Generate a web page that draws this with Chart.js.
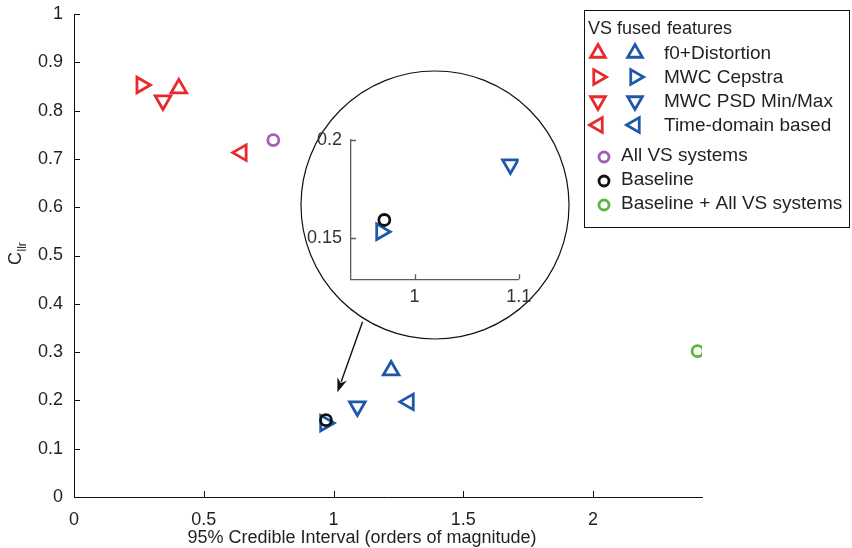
<!DOCTYPE html>
<html lang="en">
<head>
<meta charset="UTF-8">
<title>Cllr vs credible interval</title>
<script src="https://cdn.jsdelivr.net/npm/chart.js@4.4.0/dist/chart.umd.min.js"></script>
<style>
    body { margin: 0; background: #fff; }
    #wrap { position: relative; width: 852px; height: 548px; }
    #mainChart { position: absolute; left: 0; top: 0; }
    #insetChart { position: absolute; left: 290px; top: 60px; }
</style>
</head>
<body>
<div id="wrap">
    <canvas id="mainChart" width="852" height="548"></canvas>
    <canvas id="insetChart" width="290" height="290"></canvas>
</div>
<script>
// feature sets (same order in both fused groups)
const featureNames = ['f0+Distortion', 'MWC Cepstra', 'MWC PSD Min/Max', 'Time-domain based'];

// VS fused features (red)
const vsFusedX = [0.404, 0.260, 0.343, 0.646];
const vsFusedY = [0.846, 0.853, 0.821, 0.713];

// baseline + VS fused features (blue)
const baseFusedX = [1.222, 0.968, 1.092, 1.290];
const baseFusedY = [0.262, 0.153, 0.1875, 0.197];

// single systems
const allVsX = [0.768];
const allVsY = [0.739];
const baselineX = [0.971];
const baselineY = [0.159];
const baseAllVsX = [2.403];
const baseAllVsY = [0.302];

// axis ticks
const xTicks = [0, 0.5, 1, 1.5, 2];
const yTicks = [0, 0.1, 0.2, 0.3, 0.4, 0.5, 0.6, 0.7, 0.8, 0.9, 1];
const insetXTicks = [1, 1.1];
const insetYTicks = [0.15, 0.2];

// zoom arrow (data units): from circle edge to the baseline cluster
const arrowFrom = [1.112, 0.363];
const arrowTo = [1.015, 0.217];

// styles
const RED = '#e8292d';
const BLUE = '#1f58ab';
const PURPLE = '#a25db4';
const GREEN = '#5ab73d';
const BLACK = '#111111';
const TEXT = '#231f20';
const markerRot = [0, 90, 180, 270];
const FONT = "'Liberation Sans', Arial, sans-serif";
const MARK_W = 2.8;

function toPoints(xs, ys) {
    return xs.map((x, i) => ({ x: x, y: ys[i] }));
}

function buildDatasets(xRange, yRange) {
    const inRange = p => p.x >= xRange[0] && p.x <= xRange[1] && p.y >= yRange[0] && p.y <= yRange[1];
    const sets = [];
    const add = (label, pts, color, style, rot, r) => {
        sets.push({
            label: label,
            data: pts.filter(inRange),
            pointStyle: style,
            rotation: rot,
            pointRadius: r,
            borderColor: color,
            backgroundColor: 'rgba(0,0,0,0)',
            pointBorderWidth: MARK_W,
            pointHoverRadius: r
        });
    };
    featureNames.forEach((name, i) => {
        add('VS ' + name, [{ x: vsFusedX[i], y: vsFusedY[i] }], RED, 'triangle', markerRot[i], 9);
    });
    add('All VS systems', toPoints(allVsX, allVsY), PURPLE, 'circle', 0, 5.5);
    add('Baseline', toPoints(baselineX, baselineY), BLACK, 'circle', 0, 5.5);
    featureNames.forEach((name, i) => {
        add('Baseline ' + name, [{ x: baseFusedX[i], y: baseFusedY[i] }], BLUE, 'triangle', markerRot[i], 9);
    });
    add('Baseline + All VS systems', toPoints(baseAllVsX, baseAllVsY), GREEN, 'circle', 0, 5.5);
    return sets;
}

function drawMarker(ctx, kind, rotDeg, x, y, r, color) {
    ctx.save();
    ctx.strokeStyle = color;
    ctx.lineWidth = MARK_W;
    ctx.beginPath();
    if (kind === 'circle') {
        ctx.arc(x, y, r, 0, Math.PI * 2);
    } else {
        let a = rotDeg * Math.PI / 180;
        for (let i = 0; i < 3; i++) {
            const px = x + Math.sin(a) * r, py = y - Math.cos(a) * r;
            if (i === 0) ctx.moveTo(px, py); else ctx.lineTo(px, py);
            a += Math.PI * 2 / 3;
        }
        ctx.closePath();
    }
    ctx.stroke();
    ctx.restore();
}

// small ticks pointing into the plot, like matlab
function drawInwardTicks(chart, xs, ys, len, color, width) {
    const ctx = chart.ctx, a = chart.chartArea;
    const sx = chart.scales.x, sy = chart.scales.y;
    ctx.save();
    ctx.strokeStyle = color;
    ctx.lineWidth = width;
    ctx.beginPath();
    xs.forEach(v => {
        const px = Math.round(sx.getPixelForValue(v)) + 0.5;
        ctx.moveTo(px, a.bottom);
        ctx.lineTo(px, a.bottom - len);
    });
    ys.forEach(v => {
        const py = Math.round(sy.getPixelForValue(v)) + 0.5;
        ctx.moveTo(a.left, py);
        ctx.lineTo(a.left + len, py);
    });
    ctx.stroke();
    ctx.restore();
}

const mainDecor = {
    id: 'mainDecor',
    afterDraw(chart) {
        const ctx = chart.ctx;
        const sx = chart.scales.x, sy = chart.scales.y;
        drawInwardTicks(chart, xTicks.slice(1), yTicks.slice(1), 6, BLACK, 1);

        // arrow
        const x0 = sx.getPixelForValue(arrowFrom[0]), y0 = sy.getPixelForValue(arrowFrom[1]);
        const x1 = sx.getPixelForValue(arrowTo[0]), y1 = sy.getPixelForValue(arrowTo[1]);
        const ang = Math.atan2(y1 - y0, x1 - x0);
        const hl = 14, hw = 5;
        ctx.save();
        ctx.strokeStyle = BLACK;
        ctx.fillStyle = BLACK;
        ctx.lineWidth = 1.4;
        ctx.beginPath();
        ctx.moveTo(x0, y0);
        ctx.lineTo(x1 - Math.cos(ang) * hl * 0.8, y1 - Math.sin(ang) * hl * 0.8);
        ctx.stroke();
        ctx.beginPath();
        ctx.moveTo(x1, y1);
        ctx.lineTo(x1 - Math.cos(ang) * hl - Math.sin(ang) * hw, y1 - Math.sin(ang) * hl + Math.cos(ang) * hw);
        ctx.lineTo(x1 - Math.cos(ang) * hl * 0.7, y1 - Math.sin(ang) * hl * 0.7);
        ctx.lineTo(x1 - Math.cos(ang) * hl + Math.sin(ang) * hw, y1 - Math.sin(ang) * hl - Math.cos(ang) * hw);
        ctx.closePath();
        ctx.fill();
        ctx.restore();

        // axis titles
        ctx.save();
        ctx.fillStyle = TEXT;
        ctx.font = '18px ' + FONT;
        ctx.textAlign = 'center';
        ctx.textBaseline = 'alphabetic';
        ctx.fillText('95% Credible Interval (orders of magnitude)', 362, 543);

        ctx.translate(21, 265);
        ctx.rotate(-Math.PI / 2);
        ctx.textAlign = 'left';
        ctx.fillText('C', 0, 0);
        const wc = ctx.measureText('C').width;
        ctx.font = '12px ' + FONT;
        ctx.fillText('llr', wc + 0.5, 5);
        ctx.restore();

        // legend
        ctx.save();
        ctx.fillStyle = '#fff';
        ctx.fillRect(584.5, 10.5, 265, 217);
        ctx.strokeStyle = BLACK;
        ctx.lineWidth = 1;
        ctx.strokeRect(584.5, 10.5, 265, 217);
        ctx.fillStyle = TEXT;
        ctx.textBaseline = 'middle';
        ctx.textAlign = 'left';
        ctx.font = '18px ' + FONT;
        ctx.fillText('VS fused', 588, 29);
        ctx.fillText('features', 667, 29);
        ctx.font = '19px ' + FONT;
        const rowY = [53, 77, 101, 125];
        featureNames.forEach((name, i) => {
            drawMarker(ctx, 'triangle', markerRot[i], 598, rowY[i], 8.5, RED);
            drawMarker(ctx, 'triangle', markerRot[i], 635, rowY[i], 8.5, BLUE);
            ctx.fillText(name, 664, rowY[i] + 1);
        });
        const circRows = [
            ['All VS systems', PURPLE, 156],
            ['Baseline', BLACK, 180],
            ['Baseline + All VS systems', GREEN, 204]
        ];
        circRows.forEach(c => {
            drawMarker(ctx, 'circle', 0, 604, c[2] + 1, 5, c[1]);
            ctx.fillText(c[0], 621, c[2]);
        });
        ctx.restore();
    }
};

// keep tick labels from pushing the plot area around
function noLabelPadding(s) {
    s.paddingTop = 0;
    s.paddingBottom = 0;
    s.paddingLeft = 0;
    s.paddingRight = 0;
}

new Chart(document.getElementById('mainChart'), {
    type: 'scatter',
    data: { datasets: buildDatasets([-1, 10], [-1, 10]) },
    options: {
        responsive: false,
        animation: false,
        events: [],
        layout: { padding: { left: 0, top: 14, right: 150, bottom: 0 } },
        plugins: { legend: { display: false }, tooltip: { enabled: false } },
        scales: {
            x: {
                type: 'linear', min: 0, max: 2.42,
                afterBuildTicks: s => { s.ticks = xTicks.map(v => ({ value: v })); },
                afterFit: s => { s.height = 51; noLabelPadding(s); },
                grid: { display: false, drawTicks: false },
                border: { display: true, color: BLACK, width: 1 },
                ticks: { padding: 12, color: TEXT, font: { family: FONT, size: 18 }, callback: v => String(v), maxRotation: 0 }
            },
            y: {
                type: 'linear', min: 0, max: 1,
                afterBuildTicks: s => { s.ticks = yTicks.map(v => ({ value: v })); },
                afterFit: s => { s.width = 74; noLabelPadding(s); },
                grid: { display: false, drawTicks: false },
                border: { display: true, color: BLACK, width: 1 },
                ticks: { padding: 11, color: TEXT, font: { family: FONT, size: 18 }, callback: v => String(v) }
            }
        }
    },
    plugins: [mainDecor]
});

// magnified inset
const insetXRange = [0.939, 1.1];
const insetYRange = [0.1286, 0.2];
const INSET_AXIS = '#5c5c5c';

const insetDecor = {
    id: 'insetDecor',
    beforeDraw(chart) {
        const ctx = chart.ctx;
        ctx.save();
        ctx.beginPath();
        ctx.arc(145, 145, 134, 0, Math.PI * 2);
        ctx.fillStyle = '#fff';
        ctx.fill();
        ctx.strokeStyle = BLACK;
        ctx.lineWidth = 1.2;
        ctx.stroke();
        ctx.restore();
    },
    afterDraw(chart) {
        drawInwardTicks(chart, insetXTicks, insetYTicks, 5, INSET_AXIS, 1.3);
    }
};

new Chart(document.getElementById('insetChart'), {
    type: 'scatter',
    data: { datasets: buildDatasets(insetXRange, insetYRange) },
    options: {
        responsive: false,
        animation: false,
        events: [],
        layout: { padding: { left: 16, top: 80, right: 61.3, bottom: 40.7 } },
        plugins: { legend: { display: false }, tooltip: { enabled: false } },
        scales: {
            x: {
                type: 'linear', min: insetXRange[0], max: insetXRange[1],
                afterBuildTicks: s => { s.ticks = insetXTicks.map(v => ({ value: v })); },
                afterFit: s => { s.height = 30; noLabelPadding(s); },
                grid: { display: false, drawTicks: false },
                border: { display: true, color: INSET_AXIS, width: 1.3 },
                ticks: { padding: 7, color: '#333', font: { family: FONT, size: 18 }, callback: v => String(v), maxRotation: 0 }
            },
            y: {
                type: 'linear', min: insetYRange[0], max: insetYRange[1],
                afterBuildTicks: s => { s.ticks = insetYTicks.map(v => ({ value: v })); },
                afterFit: s => { s.width = 45; noLabelPadding(s); },
                grid: { display: false, drawTicks: false },
                border: { display: true, color: INSET_AXIS, width: 1.3 },
                ticks: { padding: 9, color: '#333', font: { family: FONT, size: 18 }, callback: v => String(v) }
            }
        }
    },
    plugins: [insetDecor]
});
</script>
</body>
</html>
